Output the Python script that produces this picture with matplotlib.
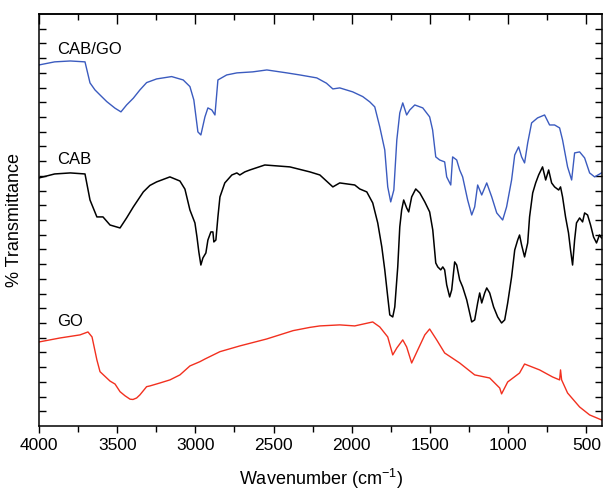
import numpy as np
import matplotlib
matplotlib.use("Agg")
import matplotlib.pyplot as plt

plt.rcParams['font.family'] = ['Liberation Sans', 'DejaVu Sans']
plt.rcParams['mathtext.fontset'] = 'custom'
plt.rcParams['mathtext.rm'] = 'Liberation Sans'
plt.rcParams['mathtext.default'] = 'regular'

# CAB/GO spectrum (wavenumber, transmittance in arbitrary offset units)
cabgo_wn = [4000, 3900, 3800, 3706, 3674, 3642, 3610, 3567, 3514, 3476, 3440, 3397, 3355, 3312,
            3248, 3152, 3078, 3035, 3010, 2984, 2965, 2939, 2920, 2895, 2875, 2856, 2800, 2735,
            2633, 2543, 2415, 2332, 2224, 2162, 2121, 2077, 1994, 1930, 1885, 1853, 1821, 1789,
            1770, 1751, 1731, 1712, 1693, 1674, 1649, 1629, 1597, 1546, 1502, 1483, 1463, 1438,
            1406, 1393, 1367, 1355, 1329, 1310, 1291, 1259, 1233, 1214, 1195, 1169, 1137, 1105,
            1073, 1035, 1010, 978, 958, 933, 914, 895, 875, 850, 812, 767, 735, 703, 671, 652,
            620, 594, 575, 543, 511, 479, 447, 403]
cabgo_t = [24.54, 24.75, 24.81, 24.75, 23.32, 22.84, 22.50, 22.05, 21.60, 21.35, 21.82, 22.28,
           22.84, 23.34, 23.59, 23.75, 23.52, 23.07, 22.16, 19.99, 19.78, 21.01, 21.62, 21.48,
           21.14, 23.52, 23.86, 24.00, 24.07, 24.20, 24.00, 23.86, 23.66, 23.30, 22.91, 22.98,
           22.71, 22.39, 22.03, 21.69, 20.33, 18.76, 16.25, 15.23, 16.04, 19.44, 21.28, 21.96,
           21.14, 21.48, 21.82, 21.62, 21.01, 20.12, 18.29, 18.08, 17.95, 16.93, 16.38, 18.29,
           18.08, 17.40, 16.93, 15.36, 14.34, 14.89, 16.38, 15.70, 16.52, 15.57, 14.48, 14.00,
           14.89, 16.72, 18.42, 18.97, 18.29, 17.88, 19.24, 20.60, 20.94, 21.14, 20.46, 20.46,
           20.26, 19.44, 17.61, 16.72, 18.56, 18.63, 18.22, 17.20, 16.93, 17.20]

# CAB spectrum
cab_wn = [4000, 3900, 3800, 3706, 3674, 3630, 3591, 3546, 3482, 3440, 3397, 3333, 3291, 3248,
          3163, 3099, 3067, 3035, 3003, 2990, 2978, 2965, 2952, 2933, 2920, 2901, 2888, 2882,
          2869, 2856, 2843, 2812, 2767, 2735, 2716, 2684, 2652, 2556, 2396, 2268, 2204, 2121,
          2077, 1981, 1949, 1904, 1866, 1834, 1808, 1789, 1770, 1757, 1738, 1725, 1706, 1693,
          1681, 1668, 1649, 1636, 1617, 1591, 1565, 1533, 1502, 1482, 1463, 1450, 1431, 1418,
          1406, 1393, 1374, 1361, 1342, 1329, 1310, 1291, 1265, 1246, 1233, 1214, 1195, 1182,
          1169, 1150, 1137, 1118, 1093, 1067, 1042, 1022, 1003, 978, 958, 939, 927, 914, 895,
          875, 863, 843, 824, 805, 780, 760, 741, 722, 703, 677, 665, 652, 633, 614, 601, 588,
          575, 563, 543, 524, 511, 492, 473, 454, 435, 416, 403]
cab_t = [16.86, 17.13, 17.20, 17.13, 15.36, 14.21, 14.21, 13.66, 13.46, 14.14, 14.89, 15.91,
         16.35, 16.59, 16.93, 16.65, 16.10, 14.68, 13.80, 12.85, 11.83, 10.94, 11.42, 11.76,
         12.64, 13.19, 13.19, 12.51, 12.64, 14.21, 15.57, 16.52, 17.06, 17.20, 17.06, 17.27,
         17.40, 17.74, 17.61, 17.27, 17.06, 16.25, 16.52, 16.38, 16.11, 15.91, 15.16, 13.80,
         12.17, 10.61, 8.77, 7.55, 7.41, 8.09, 10.81, 13.53, 14.68, 15.36, 14.82, 14.55, 15.57,
         16.11, 15.84, 15.23, 14.55, 13.32, 11.08, 10.81, 10.61, 10.81, 10.61, 9.59, 8.77, 9.25,
         11.15, 10.94, 9.93, 9.45, 8.57, 7.68, 7.07, 7.21, 8.36, 9.04, 8.36, 9.04, 9.38, 9.04,
         8.09, 7.41, 7.00, 7.21, 8.36, 10.13, 11.96, 12.64, 12.98, 12.30, 11.49, 12.44, 14.21,
         15.84, 16.52, 17.06, 17.61, 16.72, 17.40, 16.52, 16.25, 16.04, 16.25, 15.57, 14.21,
         13.12, 11.96, 10.94, 12.64, 13.80, 14.14, 13.87, 14.48, 14.34, 13.66, 12.85, 12.44,
         12.98, 12.78]

# GO spectrum
go_wn = [4000, 3866, 3738, 3687, 3661, 3630, 3610, 3591, 3546, 3514, 3482, 3450, 3418, 3399,
         3376, 3355, 3312, 3291, 3227, 3163, 3099, 3035, 2971, 2939, 2843, 2716, 2545, 2375,
         2268, 2204, 2077, 1981, 1866, 1821, 1770, 1738, 1712, 1674, 1649, 1617, 1578, 1533,
         1502, 1457, 1406, 1310, 1214, 1118, 1054, 1042, 1003, 927, 895, 799, 716, 671, 665,
         658, 620, 543, 479, 403]
go_t = [5.71, 5.98, 6.19, 6.39, 6.05, 4.49, 3.69, 3.50, 3.05, 2.85, 2.33, 2.05, 1.82, 1.80,
        1.90, 2.11, 2.67, 2.72, 2.92, 3.13, 3.47, 4.08, 4.37, 4.55, 5.05, 5.44, 5.91, 6.48,
        6.70, 6.80, 6.87, 6.80, 7.07, 6.73, 6.05, 4.83, 5.30, 5.85, 5.37, 4.28, 5.17, 6.19,
        6.59, 5.85, 4.96, 4.28, 3.47, 3.26, 2.58, 2.18, 2.99, 3.60, 4.21, 3.81, 3.33, 3.13,
        3.81, 3.13, 2.24, 1.29, 0.75, 0.41]

labels = ['CAB/GO', 'CAB', 'GO']
label_y = [25.56, 18.08, 7.07]

fig = plt.figure(figsize=(6.05, 4.93), dpi=100)
ax = fig.add_axes([0.0645, 0.136, 0.9305, 0.8355])

ax.plot(cabgo_wn, cabgo_t, color='#3b5bbf', lw=1.0)
ax.plot(cab_wn, cab_t, color='black', lw=1.1)
ax.plot(go_wn, go_t, color='#f2301f', lw=1.0)

for lab, yy in zip(labels, label_y):
    ax.text(3885, yy, lab, fontsize=12, ha='left', va='center')

ax.set_xlim(4000, 400)
ax.set_ylim(0, 28)
ax.set_xticks([4000, 3500, 3000, 2500, 2000, 1500, 1000, 500])
ax.set_xticks(np.arange(3750, 400, -500), minor=True)
ax.set_yticks(np.arange(1, 28))
ax.set_yticklabels([])
ax.tick_params(axis='x', which='major', direction='out', length=5, width=1, labelsize=12.5, pad=4)
ax.tick_params(axis='x', which='minor', direction='out', length=4, width=1)
ax.tick_params(axis='y', direction='in', length=5, width=1, left=True, right=True)

top = ax.secondary_xaxis('top')
top.set_xticks([4000, 3500, 3000, 2500, 2000, 1500, 1000, 500])
top.set_xticks(np.arange(3750, 400, -500), minor=True)
top.set_xticklabels([])
top.tick_params(which='major', direction='in', length=7, width=1)
top.tick_params(which='minor', direction='in', length=4, width=1)

for s in ax.spines.values():
    s.set_linewidth(1.1)
top.spines['top'].set_linewidth(1.1)

ax.set_xlabel('Wavenumber (cm$^{-1}$)', fontsize=13, labelpad=10)
ax.set_ylabel('% Transmittance', fontsize=13, labelpad=8)

fig.savefig('out.png', dpi=100)
